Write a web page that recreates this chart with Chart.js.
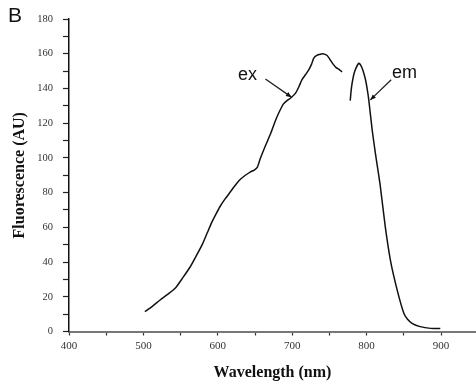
<!DOCTYPE html>
<html>
<head>
<meta charset="utf-8">
<script src="https://cdn.jsdelivr.net/npm/chart.js@4.4.0/dist/chart.umd.min.js"></script>
<style>
  html, body { margin: 0; padding: 0; background: #fff; }
  #wrap { width: 476px; height: 385px; }
</style>
</head>
<body>
<div id="wrap"><canvas id="chart" width="476" height="385"></canvas></div>
<script>
// excitation spectrum
const exWave = [502, 512, 522, 533, 543, 553, 563, 571, 579, 586, 592, 598, 603, 610, 617, 624, 630, 637, 644, 649, 653, 657, 664, 671, 677, 682, 688, 693, 698, 704, 709, 713, 718, 722, 726, 729, 733, 736, 741, 747, 751, 755, 759, 763, 767];
const exValue = [11.4, 14.5, 18, 21.5, 25, 31, 37.3, 43.5, 50, 57, 63, 68, 72, 76.5, 80.5, 84.5, 87.5, 90, 92, 93, 94.5, 99.5, 107, 114, 121, 126, 131, 133, 134.5, 137, 141, 145, 148, 150.5, 154, 157.5, 159, 159.5, 160, 159, 156.5, 154, 152, 151, 149.5];

// emission spectrum
const emWave = [778, 779, 780.5, 783, 786, 789.5, 792, 795, 798.5, 801, 803, 807.5, 812, 818, 825, 832, 841, 850, 855, 861, 872, 886, 899];
const emValue = [133, 138, 143, 148.5, 152, 154.5, 153.5, 150.5, 145, 139, 133, 116, 102, 85, 60.5, 41, 24, 10.5, 7, 4.7, 2.8, 1.8, 1.8];

// axis ticks
const xTicks = [400, 450, 500, 550, 600, 650, 700, 750, 800, 850, 900];
const yTicks = [0, 10, 20, 30, 40, 50, 60, 70, 80, 90, 100, 110, 120, 130, 140, 150, 160, 170, 180];

const toPoints = (xs, ys) => xs.map((x, i) => ({ x: x, y: ys[i] }));

// text labels with arrows, placed in data units
const notes = [
  { text: 'ex', at: [640, 147.7], from: [664, 145.4], to: [699, 135] },
  { text: 'em', at: [851, 149], from: [833, 145], to: [805, 133.4] }
];

const notesPlugin = {
  id: 'notes',
  afterDraw(chart) {
    const ctx = chart.ctx;
    const xs = chart.scales.x, ys = chart.scales.y;
    ctx.save();
    // panel letter
    ctx.fillStyle = '#111';
    ctx.font = '21px "Liberation Sans", Arial, sans-serif';
    ctx.textAlign = 'left';
    ctx.textBaseline = 'alphabetic';
    ctx.fillText('B', 8, 22);

    notes.forEach(n => {
      ctx.font = '18px "Liberation Sans", Arial, sans-serif';
      ctx.textAlign = 'center';
      ctx.textBaseline = 'middle';
      ctx.fillText(n.text, xs.getPixelForValue(n.at[0]), ys.getPixelForValue(n.at[1]));
      const x1 = xs.getPixelForValue(n.from[0]), y1 = ys.getPixelForValue(n.from[1]);
      const x2 = xs.getPixelForValue(n.to[0]), y2 = ys.getPixelForValue(n.to[1]);
      ctx.strokeStyle = '#222';
      ctx.lineWidth = 1.3;
      ctx.beginPath();
      ctx.moveTo(x1, y1);
      ctx.lineTo(x2, y2);
      ctx.stroke();
      // arrow head
      const a = Math.atan2(y2 - y1, x2 - x1);
      ctx.beginPath();
      ctx.moveTo(x2, y2);
      ctx.lineTo(x2 - 6 * Math.cos(a - 0.4), y2 - 6 * Math.sin(a - 0.4));
      ctx.lineTo(x2 - 6 * Math.cos(a + 0.4), y2 - 6 * Math.sin(a + 0.4));
      ctx.closePath();
      ctx.fill();
    });
    ctx.restore();
  }
};

const serif = '"Liberation Serif", "Times New Roman", serif';

new Chart(document.getElementById('chart'), {
  type: 'line',
  data: {
    datasets: [
      { label: 'ex', data: toPoints(exWave, exValue) },
      { label: 'em', data: toPoints(emWave, emValue) }
    ]
  },
  options: {
    responsive: false,
    animation: false,
    layout: { padding: { top: 19, left: 0, right: 0, bottom: 0 } },
    elements: {
      line: { borderColor: '#111', borderWidth: 1.5, tension: 0.2 },
      point: { radius: 0 }
    },
    plugins: {
      legend: { display: false },
      tooltip: { enabled: false }
    },
    scales: {
      x: {
        type: 'linear',
        min: 400,
        max: 947,
        afterBuildTicks: s => { s.ticks = xTicks.map(v => ({ value: v })); },
        afterFit: s => { s.height = 53.5; },
        ticks: {
          autoSkip: false,
          maxRotation: 0,
          padding: 4,
          color: '#333',
          font: { family: serif, size: 11 },
          callback: v => (v % 100 === 0 ? String(v) : '')
        },
        grid: { drawOnChartArea: false, tickLength: 4, tickColor: '#333', tickWidth: 1.2 },
        border: { display: true, color: '#777', width: 2 },
        title: {
          display: true,
          text: 'Wavelength (nm)',
          color: '#111',
          font: { family: serif, size: 16, weight: 'bold' },
          padding: { top: 0, bottom: 3 }
        }
      },
      y: {
        min: 0,
        max: 180,
        afterBuildTicks: s => { s.ticks = yTicks.map(v => ({ value: v })); },
        afterFit: s => { s.width = 69; },
        ticks: {
          autoSkip: false,
          padding: 10,
          color: '#333',
          font: { family: serif, size: 10.5 },
          callback: v => (v % 20 === 0 ? String(v) : '')
        },
        grid: { drawOnChartArea: false, tickLength: 6, tickColor: '#222', tickWidth: 1.2 },
        border: { display: true, color: '#111', width: 1.5 },
        title: {
          display: true,
          text: 'Fluorescence (AU)',
          color: '#111',
          font: { family: serif, size: 16, weight: 'bold' },
          padding: { top: 10, bottom: 0 }
        }
      }
    }
  },
  plugins: [notesPlugin]
});
</script>
</body>
</html>
